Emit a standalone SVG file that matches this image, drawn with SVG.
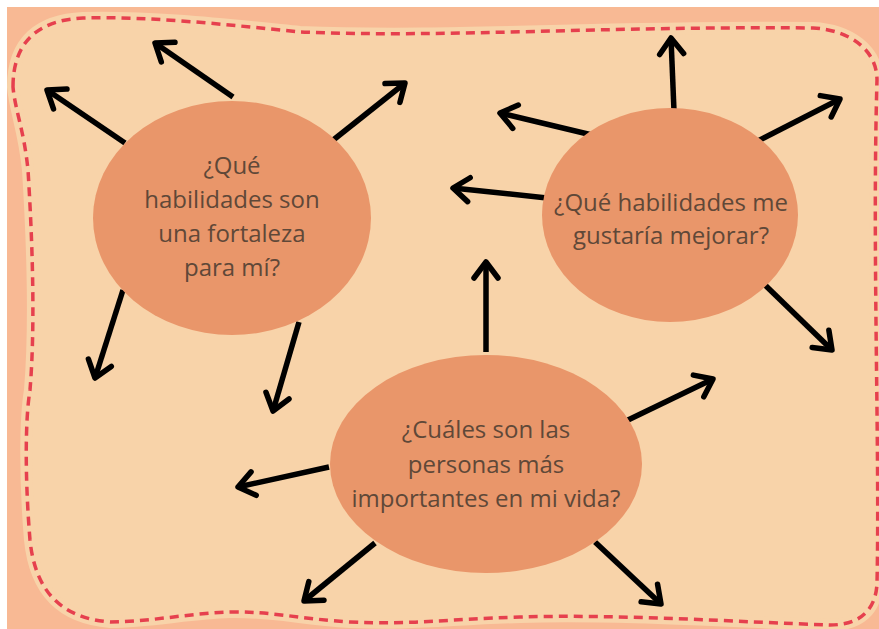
<svg xmlns="http://www.w3.org/2000/svg" width="879" height="629" viewBox="0 0 879 629">
<style>
.bg{fill:#f8b994}
.blob{fill:#f8d3a9;stroke:#f8d3a9;stroke-width:12;stroke-linejoin:round}
.dash{fill:none;stroke:#e6404e;stroke-width:3.5;stroke-dasharray:9 6}
.node ellipse{fill:#e9966a}
.node text{font-family:"Open Sans","Liberation Sans",sans-serif;font-size:24px;font-weight:400;fill:#5f4838;text-anchor:middle}
.conn line{stroke:#000;stroke-width:5.5;marker-end:url(#head)}
</style>
<defs>
<marker id="head" markerUnits="userSpaceOnUse" viewBox="-25 -20 40 40" markerWidth="40" markerHeight="40" refX="0" refY="0" orient="auto" overflow="visible">
<path d="M-16,-12 L0,0 L-16,12" fill="none" stroke="#000" stroke-width="5.5" stroke-linecap="round" stroke-linejoin="round"/>
</marker>
</defs>
<rect width="879" height="629" fill="#ffffff"/>
<rect class="bg" x="7" y="7" width="872" height="622"/>
<path id="frame" class="blob" d="M13,87 C13,40 40,20 83,18 C150,16 230,25 300,32 C450,38 600,26 813,28 C850,30 877,50 877,80 C872,250 880,450 877,583 C876,610 860,625 830,625 C740,622 620,614 520,617 C450,619 410,625 350,622 C300,619 270,611 230,612 C190,613 150,622 110,622 C60,618 35,590 30,540 C25,480 25,420 30,390 C35,330 33,250 28,170 C24,130 15,110 13,87 Z"/>
<path class="dash" d="M13,87 C13,40 40,20 83,18 C150,16 230,25 300,32 C450,38 600,26 813,28 C850,30 877,50 877,80 C872,250 880,450 877,583 C876,610 860,625 830,625 C740,622 620,614 520,617 C450,619 410,625 350,622 C300,619 270,611 230,612 C190,613 150,622 110,622 C60,618 35,590 30,540 C25,480 25,420 30,390 C35,330 33,250 28,170 C24,130 15,110 13,87 Z"/>
<g id="connectors" class="conn">
<line x1="125" y1="143" x2="47" y2="90"/>
<line x1="233" y1="97" x2="155" y2="43"/>
<line x1="332" y1="141" x2="405" y2="83"/>
<line x1="123" y1="290" x2="95" y2="378"/>
<line x1="299" y1="322" x2="273" y2="411"/>
<line x1="674" y1="111" x2="671" y2="38"/>
<line x1="756" y1="142" x2="840" y2="99"/>
<line x1="592" y1="135" x2="500" y2="113"/>
<line x1="547" y1="198" x2="453" y2="188"/>
<line x1="765" y1="285" x2="832" y2="350"/>
<line x1="486" y1="352" x2="486" y2="262"/>
<line x1="628" y1="420" x2="713" y2="379"/>
<line x1="329" y1="467" x2="238" y2="487"/>
<line x1="375" y1="543" x2="304" y2="601"/>
<line x1="595" y1="542" x2="661" y2="604"/>
</g>
<g id="node-fortaleza" class="node">
<ellipse cx="232" cy="218" rx="139" ry="117"/>
<text x="232" y="174">¿Qué</text>
<text x="232" y="208">habilidades son</text>
<text x="232" y="242">una fortaleza</text>
<text x="232" y="276">para mí?</text>
</g>
<g id="node-mejorar" class="node">
<ellipse cx="670" cy="215" rx="128" ry="107"/>
<text x="671" y="211">¿Qué habilidades me</text>
<text x="671" y="244">gustaría mejorar?</text>
</g>
<g id="node-personas" class="node">
<ellipse cx="486" cy="464" rx="156" ry="109"/>
<text x="486" y="438">¿Cuáles son las</text>
<text x="486" y="473">personas más</text>
<text x="486" y="507">importantes en mi vida?</text>
</g>
</svg>
